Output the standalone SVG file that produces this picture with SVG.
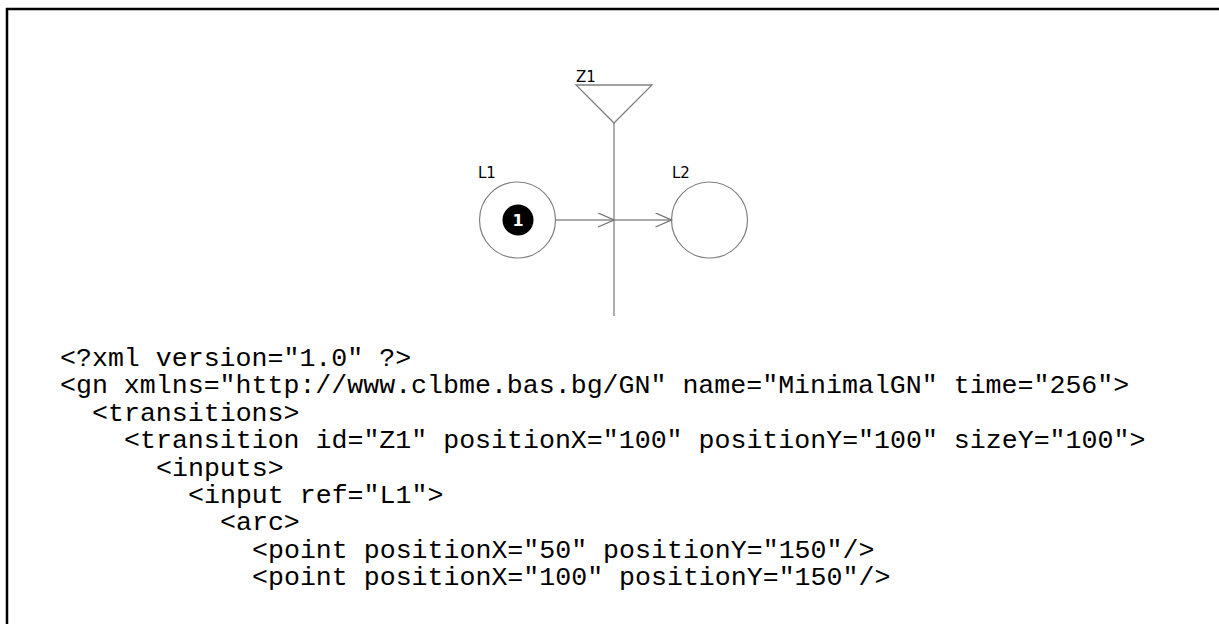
<svg xmlns="http://www.w3.org/2000/svg" width="1219" height="624" viewBox="0 0 1219 624">
<defs>
<style>
.frame{fill:none;stroke:#000;stroke-width:2.5}
.place{fill:#fff;stroke:#808080;stroke-width:1.2}
.trans{fill:none;stroke:#808080;stroke-width:1.3}
.arc{fill:none;stroke:#8c8c8c;stroke-width:1.5}
.lbl{font-family:"DejaVu Sans",Verdana,sans-serif;font-size:15px;fill:#000}
.tok{font-family:"DejaVu Sans",Verdana,sans-serif;font-size:16px;font-weight:bold;fill:#fff}
.code{font-family:"Liberation Mono","Courier New",monospace;font-size:26.6px;fill:#000}
</style>
<marker id="arr" markerWidth="20" markerHeight="16" refX="17" refY="7" orient="auto" markerUnits="userSpaceOnUse">
<path d="M1,0 L17,7 L1,14" fill="none" stroke="#707070" stroke-width="1.3"/>
</marker>
</defs>
<rect width="1219" height="624" fill="#fff"/>
<path class="frame" d="M7,624 V9 H1219"/>
<g id="Z1">
<path class="trans" d="M576,85 H652 L614,123 Z"/>
<line class="trans" x1="614" y1="123" x2="614" y2="316"/>
<text class="lbl" x="576" y="82">Z1</text>
</g>
<g id="L1">
<circle class="place" cx="517.5" cy="220" r="38"/>
<text class="lbl" x="478" y="178">L1</text>
<circle cx="518" cy="220" r="15.5" fill="#000"/>
<text class="tok" x="518" y="226" text-anchor="middle">1</text>
</g>
<g id="L2">
<circle class="place" cx="709.5" cy="220" r="38"/>
<text class="lbl" x="672" y="178">L2</text>
</g>
<g id="connectors">
<line class="arc" x1="556" y1="220" x2="614" y2="220" marker-end="url(#arr)"/>
<line class="arc" x1="614" y1="220" x2="671.5" y2="220" marker-end="url(#arr)"/>
</g>
<g id="code" class="code">
<text x="60" y="366">&lt;?xml version="1.0" ?&gt;</text>
<text x="60" y="393.4">&lt;gn xmlns="http://www.clbme.bas.bg/GN" name="MinimalGN" time="256"&gt;</text>
<text x="92" y="420.8">&lt;transitions&gt;</text>
<text x="124" y="448.2">&lt;transition id="Z1" positionX="100" positionY="100" sizeY="100"&gt;</text>
<text x="156" y="475.6">&lt;inputs&gt;</text>
<text x="188" y="503">&lt;input ref="L1"&gt;</text>
<text x="220" y="530.4">&lt;arc&gt;</text>
<text x="252" y="557.8">&lt;point positionX="50" positionY="150"/&gt;</text>
<text x="252" y="585.2">&lt;point positionX="100" positionY="150"/&gt;</text>
</g>
</svg>
